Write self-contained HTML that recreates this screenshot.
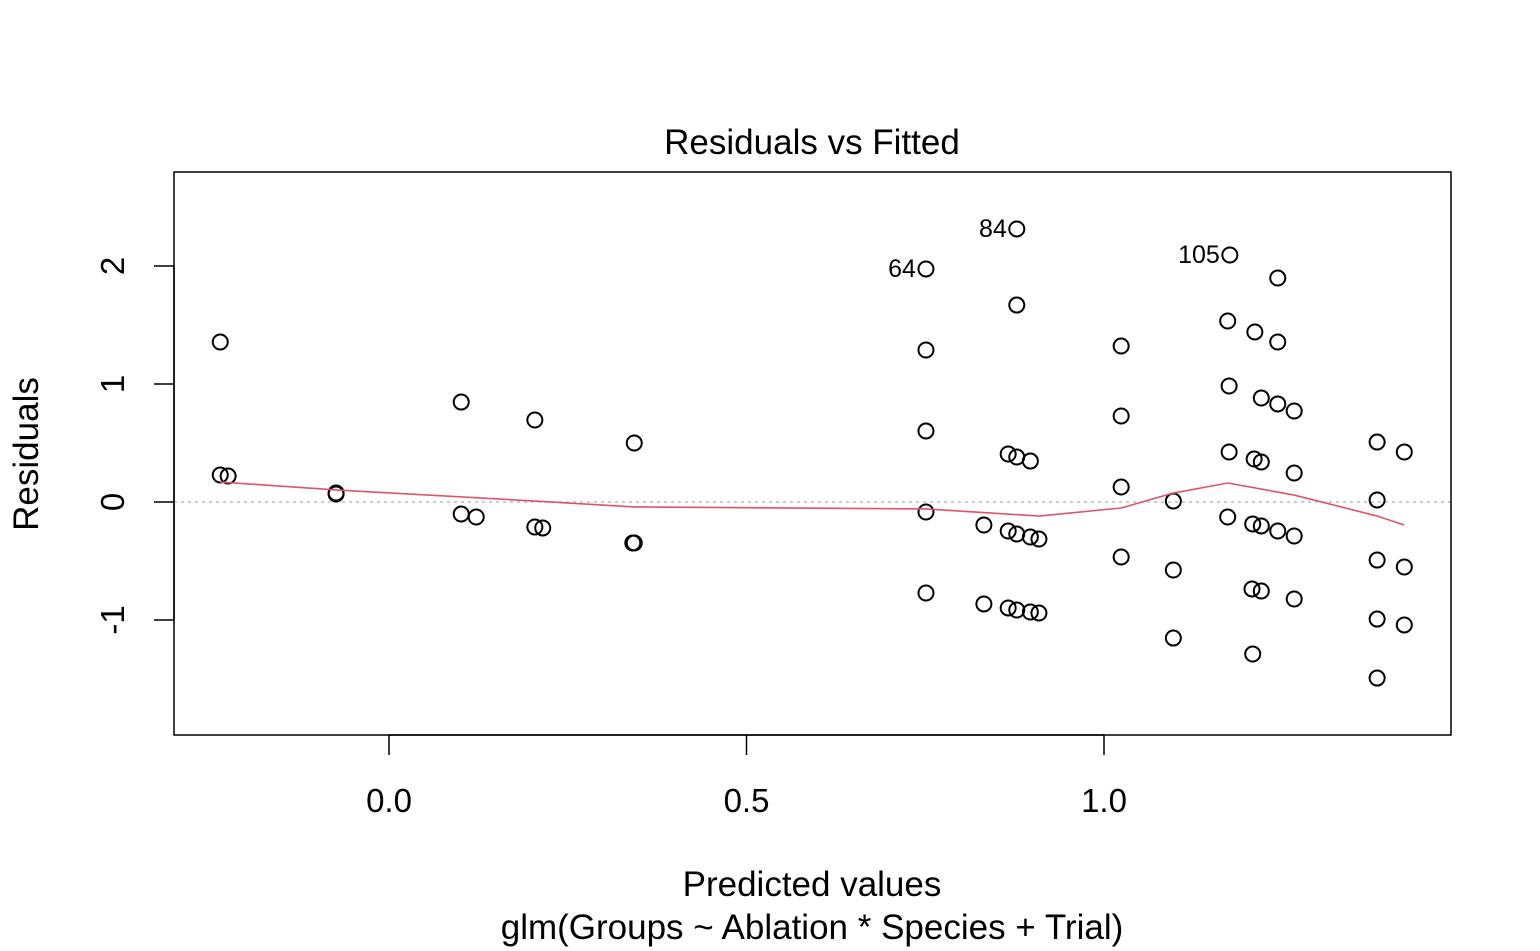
<!DOCTYPE html>
<html><head><meta charset="utf-8"><style>
html,body{margin:0;padding:0;background:#fff;}
svg{display:block;font-family:"Liberation Sans",Arial,sans-serif;}
</style></head><body>
<svg id="chart" width="1540" height="951" viewBox="0 0 1540 951">
<rect width="1540" height="951" fill="#fff"/>
<text x="812" y="154" font-size="35" text-anchor="middle">Residuals vs Fitted</text>
<text x="812" y="896" font-size="35" text-anchor="middle">Predicted values</text>
<text x="812" y="939" font-size="35" text-anchor="middle">glm(Groups ~ Ablation * Species + Trial)</text>
<text transform="translate(38,454) rotate(-90)" font-size="35" text-anchor="middle">Residuals</text>
<g id="xticks"></g>
<g id="yticks"></g>
<line x1="174" x2="1451" y1="502" y2="502" stroke="#bbb" stroke-width="1.5" stroke-dasharray="3,4"/>
<g id="points"></g>
<polyline id="smooth" fill="none" stroke="#DF536B" stroke-width="1.6"/>
<g id="labels"></g>
<rect x="174" y="172" width="1277" height="563" fill="none" stroke="#000" stroke-width="1.5"/>
</svg>
<script>
const fittedX = [-0.236,-0.236,-0.225,-0.074,-0.074,0.101,0.101,0.122,0.204,0.204,0.215,0.343,0.341,0.343,
0.751,0.751,0.751,0.751,0.751,
0.878,0.878,0.866,0.878,0.897,0.832,0.866,0.878,0.897,0.909,0.832,0.866,0.878,0.897,0.909,
1.024,1.024,1.024,1.024,1.097,1.097,1.097,
1.176,1.173,1.175,1.175,1.173,1.211,1.220,1.210,1.220,1.208,1.220,1.207,1.220,1.208,1.243,1.243,1.243,1.243,1.266,1.266,1.266,1.266,
1.382,1.382,1.382,1.382,1.382,1.420,1.420,1.420];
const residualsY = [1.356,0.229,0.22,0.068,0.076,0.847,-0.102,-0.127,0.695,-0.212,-0.22,0.5,-0.347,-0.347,
1.975,1.288,0.602,-0.085,-0.771,
2.314,1.669,0.407,0.381,0.347,-0.195,-0.246,-0.271,-0.297,-0.314,-0.864,-0.898,-0.915,-0.932,-0.941,
1.322,0.729,0.127,-0.466,0.008,-0.576,-1.153,
2.093,1.534,0.983,0.424,-0.127,1.441,0.881,0.364,0.339,-0.186,-0.203,-0.737,-0.754,-1.288,1.898,1.356,0.831,-0.246,0.771,0.246,-0.288,-0.822,
0.508,0.017,-0.492,-0.992,-1.492,0.424,-0.551,-1.042];
const smoothX = [-0.236,-0.074,0.204,0.343,0.751,0.909,1.024,1.097,1.173,1.266,1.382,1.420];
const smoothY = [0.169,0.102,0.008,-0.042,-0.059,-0.119,-0.051,0.076,0.161,0.059,-0.119,-0.195];
const outlierNames = ["64","84","105"];
const outlierX = [0.751,0.878,1.176];
const outlierY = [1.975,2.314,2.093];
const xTicks = [0.0,0.5,1.0];
const xTickLabels = ["0.0","0.5","1.0"];
const yTicks = [-1,0,1,2];
const yTickLabels = ["-1","0","1","2"];

const NS="http://www.w3.org/2000/svg";
const sx = v => 389 + v*715;
const sy = v => 502 - v*118;
function mk(tag, attrs, parent){const e=document.createElementNS(NS,tag);for(const k in attrs)e.setAttribute(k,attrs[k]);parent.appendChild(e);return e;}
const xg=document.getElementById('xticks'), yg=document.getElementById('yticks');
mk('line',{x1:sx(xTicks[0]),x2:sx(xTicks[xTicks.length-1]),y1:735,y2:735,stroke:'#000','stroke-width':1.5},xg);
xTicks.forEach((t,i)=>{
  const l=mk('line',{x1:sx(t),x2:sx(t),y1:735,y2:755,stroke:'#000','stroke-width':1.5},xg);
  
  
  const tx=mk('text',{x:sx(t),y:812,'font-size':33,'text-anchor':'middle'},xg);tx.textContent=xTickLabels[i];
  
  
});
mk('line',{x1:174,x2:174,y1:sy(yTicks[0]),y2:sy(yTicks[yTicks.length-1]),stroke:'#000','stroke-width':1.5},yg);
yTicks.forEach((t,i)=>{
  const l=mk('line',{x1:154,x2:174,y1:sy(t),y2:sy(t),stroke:'#000','stroke-width':1.5},yg);
  
  
  const tx=mk('text',{transform:`translate(${124},${sy(t)}) rotate(-90)`,'font-size':33,'text-anchor':'middle'},yg);tx.textContent=yTickLabels[i];
  
  
});
const pg=document.getElementById('points');
fittedX.forEach((x,i)=>{
  const c=mk('circle',{cx:sx(x),cy:sy(residualsY[i]),r:7.5,fill:'none',stroke:'#000','stroke-width':2},pg);
  
  
});
document.getElementById('smooth').setAttribute('points',smoothX.map((x,i)=>sx(x)+','+sy(smoothY[i])).join(' '));
const lg=document.getElementById('labels');
outlierNames.forEach((n,i)=>{
  const t=mk('text',{x:sx(outlierX[i])-10,y:sy(outlierY[i])+8,'font-size':25,'text-anchor':'end'},lg);t.textContent=n;
  
  
});
</script>
</body></html>
